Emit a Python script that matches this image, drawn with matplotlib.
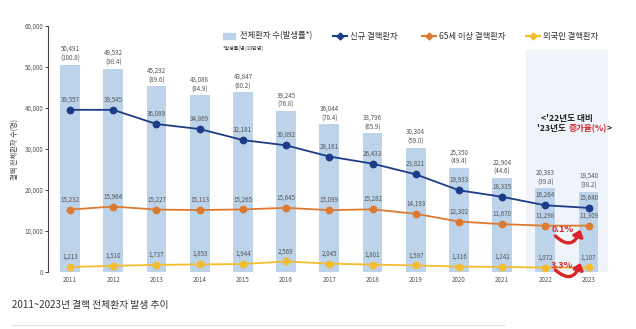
import numpy as np
import matplotlib.pyplot as plt
from matplotlib.lines import Line2D
from matplotlib.patches import Rectangle

plt.rcParams['font.family'] = ['Noto Sans CJK KR', 'DejaVu Sans']

years = ['2011', '2012', '2013', '2014', '2015', '2016', '2017',
         '2018', '2019', '2020', '2021', '2022', '2023']
total = [50491, 49532, 45292, 43088, 43847, 39245, 36044,
         33796, 30304, 25350, 22904, 20383, 19540]
rate = [100.8, 98.4, 89.6, 84.9, 80.2, 76.8, 70.4,
        65.9, 59.0, 49.4, 44.6, 39.8, 38.2]
new_cases = [39557, 39545, 36089, 34869, 32181, 30892, 28161,
             26433, 23821, 19933, 18335, 16264, 15640]
elderly = [15232, 15964, 15227, 15113, 15265, 15645, 15099,
           15282, 14193, 12302, 11670, 11298, 11309]
foreign = [1213, 1510, 1737, 1853, 1944, 2569, 2045,
           1801, 1597, 1316, 1242, 1072, 1107]
change_labels = ['0.1%', '3.3%']

c_bar = '#bcd3ea'
c_navy = '#1d3c88'
c_orange = '#dd7a30'
c_yellow = '#f2bd2e'
c_red = '#d9262b'
c_txt = '#555555'

fig = plt.figure(figsize=(6.36, 3.29), dpi=100)
ax = fig.add_axes([48/636, 57/329, 560/636, 246/329])
x = np.arange(len(years))

# highlight box behind the last two years
ax.axvspan(10.55, 12.45, ymin=0, ymax=54100/60000, color='#eef4fa', zorder=0, lw=0)

ax.bar(x, total, width=0.46, color=c_bar, zorder=1)
for xi, t, r in zip(x, total, rate):
    ax.annotate(f'{t:,}\n({r:.1f})', (xi, t), xytext=(0, 1.5), textcoords='offset points',
                ha='center', va='bottom', fontsize=4.5, color=c_txt, linespacing=1.3)

for vals, col in [(new_cases, c_navy), (elderly, c_orange), (foreign, c_yellow)]:
    ax.plot(x, vals, color=col, lw=1.3, marker='o', ms=4.6, zorder=3)
    for xi, v in zip(x, vals):
        ax.annotate(f'{v:,}', (xi, v), xytext=(0, 4.5), textcoords='offset points',
                    ha='center', va='bottom', fontsize=4.5, color=c_txt, zorder=4)

ax.set_xlim(-0.51, 12.45)
ax.set_ylim(0, 60000)
ax.set_yticks(range(0, 60001, 10000))
ax.set_yticklabels([f'{v:,}' for v in range(0, 60001, 10000)])
ax.set_xticks(x)
ax.set_xticklabels(years)
ax.tick_params(axis='y', labelsize=4.5, labelcolor=c_txt, length=2, width=0.7,
               color='#444444', pad=1.5)
ax.tick_params(axis='x', labelsize=4.5, labelcolor=c_txt, length=0, pad=3)
for s in ['top', 'right', 'bottom']:
    ax.spines[s].set_visible(False)
ax.spines['left'].set_color('#444444')
ax.spines['left'].set_linewidth(0.8)
ax.set_ylabel('결핵 전체환자 수(명)', fontsize=5.2, color='#444444', labelpad=4)

# change rate note
ax.text(11.5, 37500, "<'22년도 대비", ha='center', va='center',
        fontsize=6.2, fontweight='bold', color='#222222')
t2 = ax.text(11.17, 35000, "'23년도 ", ha='center', va='center',
             fontsize=6.2, fontweight='bold', color='#222222')
t3 = ax.annotate('증가율(%)', xy=(1, 0), xycoords=t2, ha='left', va='bottom',
                 fontsize=6.2, fontweight='bold', color=c_red)
ax.annotate('>', xy=(1, 0), xycoords=t3, ha='left', va='bottom',
            fontsize=6.2, fontweight='bold', color='#222222')

# curved arrows from 2022 to 2023
for lab, y0, y1, ty in [(change_labels[0], 8800, 10300, 10250),
                        (change_labels[1], 500, 2200, 1700)]:
    ax.annotate('', xy=(11.81, y1), xytext=(11.23, y0),
                arrowprops=dict(arrowstyle='-|>,head_width=0.3,head_length=0.35',
                                color=c_red, lw=2.4, shrinkA=0, shrinkB=0,
                                connectionstyle='arc3,rad=0.75'), zorder=5)
    ax.text(11.39, ty, lab, ha='center', va='center', fontsize=6.5,
            fontweight='bold', color=c_red, zorder=6)

# legend row
ly = 1 - 36/329
fig.patches.append(Rectangle((223/636, ly - 3/329), 12/636, 6/329, color=c_bar,
                             transform=fig.transFigure))
fig.text(240/636, ly, '전체환자 수(발생률*)', fontsize=6, va='center', color='#333333')
fig.text(223/636, 1 - 48/329, '*발생률(명/10만명)', fontsize=3.6, va='center', color='#333333')
for x0, col, lab in [(333, c_navy, '신규 결핵환자'), (422, c_orange, '65세 이상 결핵환자'),
                     (526, c_yellow, '외국인 결핵환자')]:
    fig.lines.append(Line2D([x0/636, (x0 + 14)/636], [ly, ly], color=col, lw=1.5,
                            transform=fig.transFigure))
    fig.lines.append(Line2D([(x0 + 7)/636], [ly], color=col, marker='D', ms=3.5,
                            transform=fig.transFigure))
    fig.text((x0 + 17)/636, ly, lab, fontsize=6, va='center', color='#333333')

# caption
fig.text(12/636, 1 - 305/329, '2011~2023년 결핵 전체환자 발생 추이', fontsize=7,
         va='center', color='#333333')
fig.lines.append(Line2D([12/636, 504/636], [1 - 325/329] * 2, color='#dddddd', lw=0.8,
                        transform=fig.transFigure))

fig.savefig('out.png', dpi=100)
